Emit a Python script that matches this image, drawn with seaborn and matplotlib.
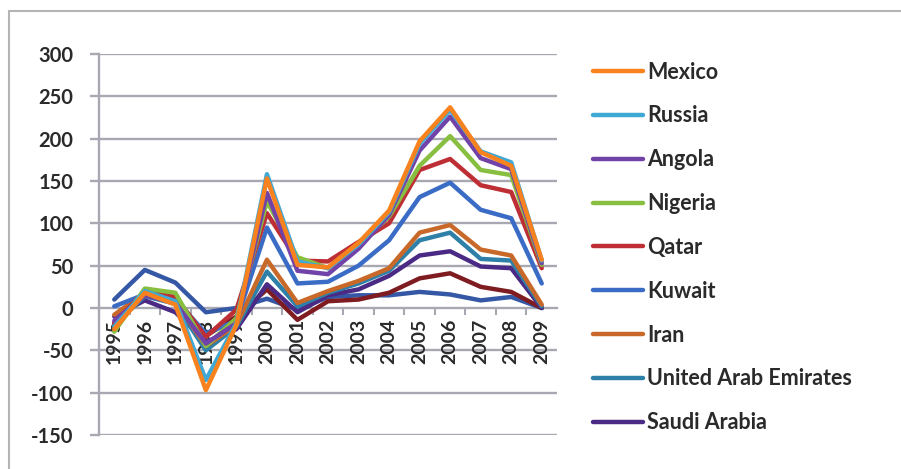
import numpy as np
import pandas as pd
import matplotlib
matplotlib.use("Agg")
import matplotlib.pyplot as plt
from matplotlib.lines import Line2D
import seaborn as sns

years = list(range(1995, 2010))

mexico = [-25, 18, 4, -97, -20, 153, 51, 48, 77, 115, 197, 237, 184, 168, 57]
russia = [-22, 20, 8, -85, -18, 158, 55, 47, 75, 113, 194, 234, 185, 172, 56]
angola = [-15, 15, 6, -42, -18, 136, 44, 40, 70, 110, 186, 226, 177, 164, 53]
nigeria = [-28, 23, 18, -45, -12, 126, 60, 47, 74, 108, 168, 203, 163, 157, 51]
qatar = [-18, 20, 13, -34, -2, 112, 56, 55, 78, 100, 163, 176, 145, 137, 47]
kuwait = [2, 16, 10, -30, -15, 95, 29, 31, 50, 80, 131, 148, 116, 106, 29]
iran = [-8, 18, 8, -45, -20, 57, 6, 20, 32, 47, 89, 98, 69, 62, 4]
uae = [-20, 14, 5, -50, -22, 43, 2, 18, 29, 44, 80, 89, 58, 56, 2]
saudi = [-10, 9, -5, -40, -25, 28, -5, 15, 22, 38, 62, 67, 49, 47, 0]
extra_dark_red = [-18, 14, 8, -33, -10, 22, -14, 8, 10, 18, 35, 41, 25, 19, 0]
extra_dark_blue = [10, 45, 30, -5, 0, 11, -2, 13, 15, 15, 19, 16, 9, 13, 0]

legend_names = ["Mexico", "Russia", "Angola", "Nigeria", "Qatar", "Kuwait",
                "Iran", "United Arab Emirates", "Saudi Arabia"]
series = {
    "Mexico": mexico, "Russia": russia, "Angola": angola, "Nigeria": nigeria,
    "Qatar": qatar, "Kuwait": kuwait, "Iran": iran,
    "United Arab Emirates": uae, "Saudi Arabia": saudi,
    "_s10": extra_dark_red, "_s11": extra_dark_blue,
}
palette = {
    "Mexico": "#F7821E", "Russia": "#3FA9D6", "Angola": "#7143A8",
    "Nigeria": "#88BF40", "Qatar": "#BE2F35", "Kuwait": "#3A6CC6",
    "Iran": "#C8692A", "United Arab Emirates": "#2E80A8",
    "Saudi Arabia": "#4A2A85", "_s10": "#7E1C22", "_s11": "#3457A6",
}

rows = []
for name, vals in series.items():
    for y, v in zip(years, vals):
        rows.append({"year": y, "value": v, "country": name})
df = pd.DataFrame(rows)

sns.set_theme(style="white")
plt.rcParams["font.family"] = ["Lato", "DejaVu Sans"]
plt.rcParams["font.weight"] = "bold"
plt.rcParams["axes.unicode_minus"] = False

fig = plt.figure(figsize=(9.01, 4.69), dpi=100)
ax = fig.add_axes([99 / 901, 1 - 435 / 469, 458 / 901, (435 - 54) / 469])

grid_c = "#A8A8B2"
for yv in range(-150, 301, 50):
    if yv != 0:
        ax.axhline(yv, color=grid_c, lw=1.7, zorder=0)

draw_order = ["_s11", "_s10", "Saudi Arabia", "United Arab Emirates", "Iran",
              "Kuwait", "Qatar", "Nigeria", "Angola", "Russia", "Mexico"]
sns.lineplot(data=df, x="year", y="value", hue="country", hue_order=draw_order,
             palette=palette, linewidth=3.2, legend=False, ax=ax, sort=False,
             errorbar=None, zorder=3)

ax.set_xlim(1994.5, 2009.5)
ax.set_ylim(-150, 300)
ax.set_yticks(range(-150, 301, 50))
ax.set_xlabel("")
ax.set_ylabel("")

for s in ["top", "right"]:
    ax.spines[s].set_visible(False)
ax.spines["left"].set_color(grid_c)
ax.spines["left"].set_linewidth(1.7)
ax.spines["bottom"].set_position(("data", 0))
ax.spines["bottom"].set_color(grid_c)
ax.spines["bottom"].set_linewidth(1.7)
ax.spines["bottom"].set_zorder(1)

ax.set_xticks(years)
ax.set_xticklabels([str(y) for y in years], rotation=90, fontsize=14,
                   fontweight="bold", color="#2a2a2a")
ax.set_xticks([y + 0.5 for y in years[:-1]] + [1994.5], minor=True)
ax.tick_params(axis="x", which="major", length=0, pad=8)
ax.tick_params(axis="x", which="minor", length=5, width=1.5, color=grid_c,
               direction="out", bottom=True)
ax.tick_params(axis="y", length=6.5, width=1.7, color=grid_c, pad=12,
               labelsize=14.5, labelcolor="#2a2a2a", left=True)
for lab in ax.get_yticklabels():
    lab.set_fontweight("bold")

handles = [Line2D([0], [0], color=palette[n], lw=3.2) for n in legend_names]
leg = fig.legend(handles, legend_names, loc="upper left",
                 bbox_to_anchor=(584.5 / 901, 1 - 53 / 469), frameon=False,
                 fontsize=15.5, handlelength=2.33, handletextpad=0.19,
                 labelspacing=1.06, borderaxespad=0)
for t in leg.get_texts():
    t.set_fontweight("bold")
    t.set_color("#2a2a2a")

frame_c = "#B4B4B4"
fig.add_artist(Line2D([9 / 901, 1.0], [1 - 11 / 469, 1 - 11 / 469],
                      transform=fig.transFigure, color=frame_c, lw=1.5))
fig.add_artist(Line2D([9 / 901, 9 / 901], [0.0, 1 - 11 / 469],
                      transform=fig.transFigure, color=frame_c, lw=1.5))

fig.savefig("out.png", dpi=100, facecolor="white")
